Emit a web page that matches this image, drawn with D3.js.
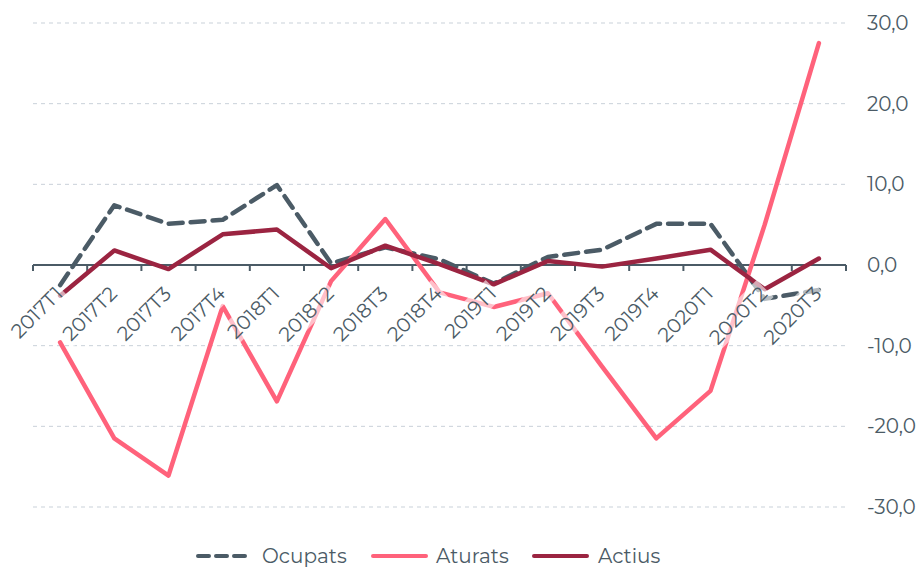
<!doctype html>
<html lang="ca">
<head>
	<meta charset="UTF-8">
	<title>Variació interanual</title>
	<script src="https://d3js.org/d3.v7.min.js"></script>
	<style>
		body {
			margin: 0;
			padding: 0;
			background: #fff;
			font-family: Montserrat, "DejaVu Sans", sans-serif;
		}
	</style>
</head>
<body>
	<div id="chart"></div>

	<script>
		// Data
		const quarters = ['2017T1', '2017T2', '2017T3', '2017T4', '2018T1', '2018T2', '2018T3', '2018T4',
			'2019T1', '2019T2', '2019T3', '2019T4', '2020T1', '2020T2', '2020T3'];
		const ocupats = [-2.5, 7.4, 5.1, 5.6, 9.9, 0.2, 2.2, 0.7, -2.3, 1.0, 1.9, 5.1, 5.1, -4.2, -3.1];
		const aturats = [-9.6, -21.5, -26.1, -5.1, -16.9, -2.0, 5.7, -3.4, -5.2, -3.5, -12.6, -21.5, -15.6, 5.0, 27.5];
		const actius = [-3.8, 1.8, -0.5, 3.8, 4.4, -0.4, 2.4, 0.1, -2.4, 0.5, -0.2, 0.8, 1.9, -3.0, 0.8];
		const yTicks = [-30, -20, -10, 0, 10, 20, 30];

		const series = [
			{ name: 'Ocupats', values: ocupats, color: '#4b5b66', dash: '14,8' },
			{ name: 'Aturats', values: aturats, color: '#ff627b', dash: null },
			{ name: 'Actius', values: actius, color: '#9b2441', dash: null }
		];

		const width = 923;
		const height = 567;
		const textColor = '#4b5b66';

		const svg = d3.select('#chart')
			.append('svg')
			.attr('width', width)
			.attr('height', height);

		// Scales
		const x = d3.scaleBand()
			.domain(quarters)
			.range([33, 846]);

		const y = d3.scaleLinear()
			.domain([-30, 30])
			.range([507, 23]);

		const cx = (d) => x(d) + x.bandwidth() / 2;

		// Grid lines
		svg.append('g')
			.selectAll('line')
			.data(yTicks.filter((d) => d !== 0))
			.enter().append('line')
			.attr('x1', 33)
			.attr('x2', 846)
			.attr('y1', (d) => y(d))
			.attr('y2', (d) => y(d))
			.attr('stroke', '#c9d1d9')
			.attr('stroke-width', 1)
			.attr('stroke-dasharray', '4,4');

		// Y axis labels (right side)
		svg.append('g')
			.selectAll('text')
			.data(yTicks)
			.enter().append('text')
			.attr('x', 867)
			.attr('y', (d) => y(d))
			.attr('dy', '0.35em')
			.attr('font-size', 20)
			.attr('fill', textColor)
			.text((d) => d3.format('.1f')(d).replace('.', ',').replace('−', '-'));

		// X axis line and ticks
		const xAxis = svg.append('g')
			.attr('transform', 'translate(0,' + y(0) + ')');

		xAxis.append('line')
			.attr('x1', 33)
			.attr('x2', 846)
			.attr('stroke', textColor)
			.attr('stroke-width', 2);

		xAxis.selectAll('.edge')
			.data(quarters.concat(['end']))
			.enter().append('line')
			.attr('x1', (d, i) => 33 + i * x.step())
			.attr('x2', (d, i) => 33 + i * x.step())
			.attr('y1', 0)
			.attr('y2', 6)
			.attr('stroke', textColor)
			.attr('stroke-width', 2);

		// Lines
		const line = d3.line()
			.x((d, i) => cx(quarters[i]))
			.y((d) => y(d));

		svg.append('g')
			.selectAll('path')
			.data(series)
			.enter().append('path')
			.attr('d', (s) => line(s.values))
			.attr('fill', 'none')
			.attr('stroke', (s) => s.color)
			.attr('stroke-width', 4.5)
			.attr('stroke-linejoin', 'round')
			.attr('stroke-linecap', 'round')
			.attr('stroke-dasharray', (s) => s.dash);

		// X labels with translucent background
		const labels = svg.append('g')
			.selectAll('g')
			.data(quarters)
			.enter().append('g')
			.attr('transform', (d) => 'translate(' + (cx(d) - 1) + ',' + (y(0) + 25) + ') rotate(-45)');

		labels.append('text')
			.attr('text-anchor', 'end')
			.attr('dy', '0.35em')
			.attr('font-size', 20)
			.attr('fill', textColor)
			.text((d) => d);

		labels.each(function () {
			const g = d3.select(this);
			const box = g.select('text').node().getBBox();
			g.insert('rect', 'text')
				.attr('x', box.x - 2)
				.attr('y', box.y)
				.attr('width', box.width + 4)
				.attr('height', box.height)
				.attr('fill', '#fff')
				.attr('fill-opacity', 0.6);
		});

		// Legend
		const legendItems = [
			{ s: series[0], x: 198, tx: 262 },
			{ s: series[1], x: 373, tx: 436 },
			{ s: series[2], x: 534, tx: 598 }
		];

		const legend = svg.append('g')
			.selectAll('g')
			.data(legendItems)
			.enter().append('g')
			.attr('transform', 'translate(0,556)');

		legend.append('line')
			.attr('x1', (d) => d.x)
			.attr('x2', (d) => d.x + 53)
			.attr('stroke', (d) => d.s.color)
			.attr('stroke-width', 4)
			.attr('stroke-linecap', 'round')
			.attr('stroke-dasharray', (d) => d.s.dash ? '11,7' : null);

		legend.append('text')
			.attr('x', (d) => d.tx)
			.attr('dy', '0.35em')
			.attr('font-size', 20)
			.attr('fill', textColor)
			.text((d) => d.s.name);
	</script>
</body>
</html>
